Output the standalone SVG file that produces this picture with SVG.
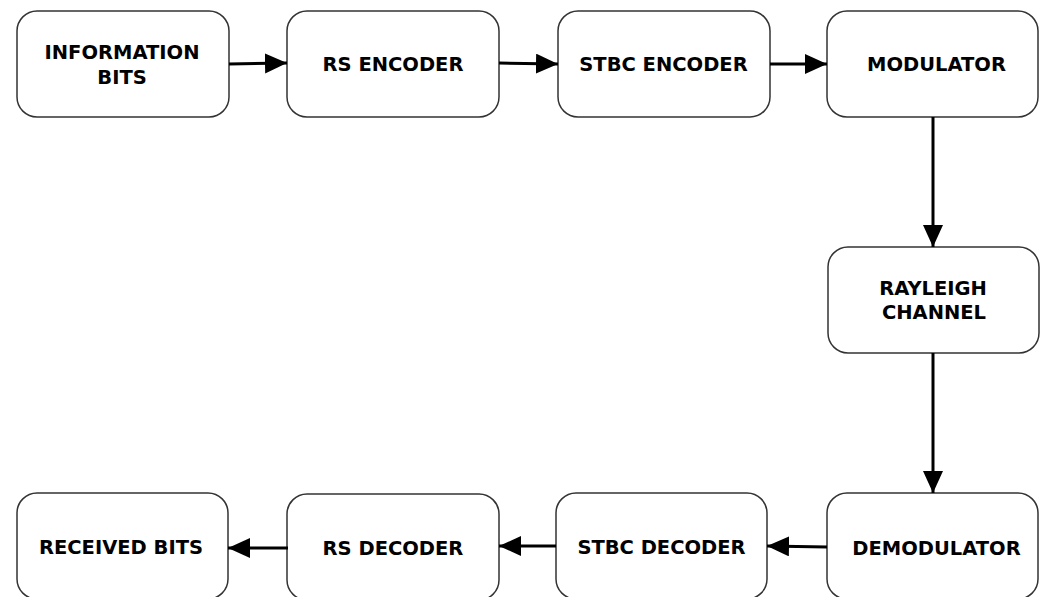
<svg xmlns="http://www.w3.org/2000/svg" width="1043" height="597" viewBox="0 0 1043 597">
<style>
.box{fill:#fff;stroke:#333;stroke-width:1.5}
.lbl{font-family:"DejaVu Sans","Liberation Sans",sans-serif;font-weight:bold;font-size:19.5px;fill:#000;text-anchor:middle}
.conn line{stroke:#000;stroke-width:3;marker-end:url(#ah)}
</style>
<defs>
<marker id="ah" markerUnits="userSpaceOnUse" markerWidth="24" markerHeight="22" refX="22" refY="10" orient="auto">
<path d="M0,0 L22,10 L0,20 Z" fill="#000"/>
</marker>
</defs>
<rect width="1043" height="597" fill="#fff"/>
<g id="n-info"><rect class="box" x="17" y="11" width="212" height="106" rx="20"/><text class="lbl" x="122" y="59">INFORMATION</text><text class="lbl" x="122" y="84">BITS</text></g>
<g id="n-rsenc"><rect class="box" x="287" y="11" width="212" height="106" rx="20"/><text class="lbl" x="393" y="71">RS ENCODER</text></g>
<g id="n-stbcenc"><rect class="box" x="558" y="11" width="212" height="106" rx="20"/><text class="lbl" x="663.5" y="71">STBC ENCODER</text></g>
<g id="n-mod"><rect class="box" x="827" y="11" width="211" height="106" rx="20"/><text class="lbl" x="936.5" y="71">MODULATOR</text></g>
<g id="n-ray"><rect class="box" x="828" y="247" width="211" height="106" rx="20"/><text class="lbl" x="933" y="295">RAYLEIGH</text><text class="lbl" x="934" y="319">CHANNEL</text></g>
<g id="n-demod"><rect class="box" x="827" y="493" width="211" height="106" rx="20"/><text class="lbl" x="936.5" y="555">DEMODULATOR</text></g>
<g id="n-stbcdec"><rect class="box" x="556" y="493" width="211" height="106" rx="20"/><text class="lbl" x="661.5" y="554">STBC DECODER</text></g>
<g id="n-rsdec"><rect class="box" x="287" y="494" width="212" height="106" rx="20"/><text class="lbl" x="393" y="555">RS DECODER</text></g>
<g id="n-recv"><rect class="box" x="17" y="493" width="211" height="106" rx="20"/><text class="lbl" x="121" y="554">RECEIVED BITS</text></g>
<g id="connectors" class="conn">
<line x1="229" y1="64" x2="287" y2="63"/>
<line x1="499" y1="63" x2="558" y2="64"/>
<line x1="770" y1="64" x2="827" y2="64"/>
<line x1="933" y1="117" x2="933" y2="247"/>
<line x1="933" y1="353" x2="933" y2="493"/>
<line x1="827" y1="547" x2="767" y2="546"/>
<line x1="556" y1="546" x2="499" y2="546"/>
<line x1="288" y1="548" x2="228" y2="548"/>
</g>
</svg>
